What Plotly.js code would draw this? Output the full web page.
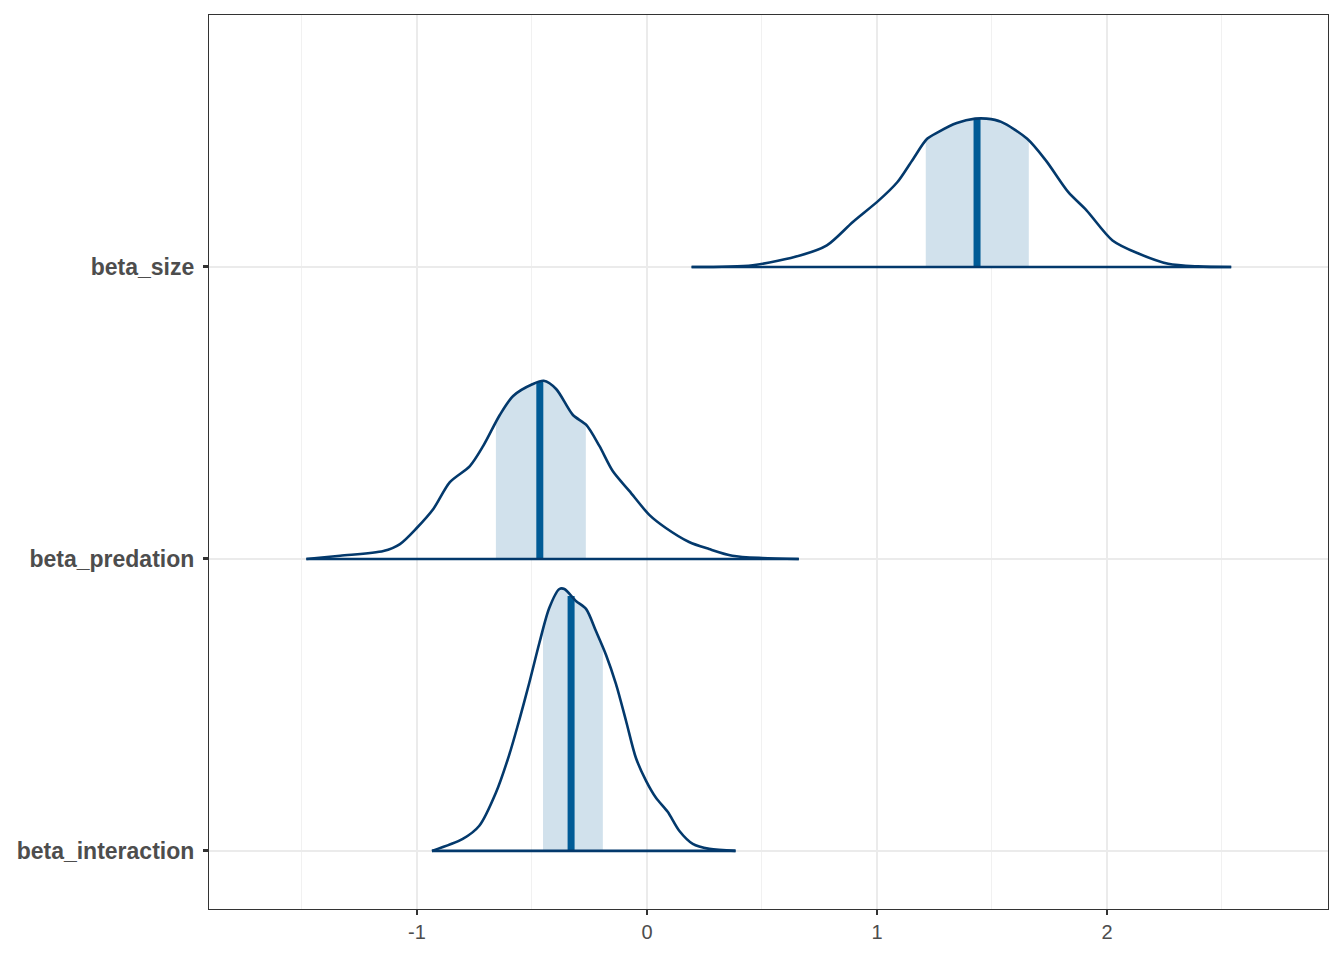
<!DOCTYPE html>
<html>
<head>
<meta charset="utf-8">
<script src="https://cdn.plot.ly/plotly-3.0.1.min.js"></script>
<style>html,body{margin:0;padding:0;background:#fff;}#chart{width:1344px;height:960px;}</style>
</head>
<body>
<div id="chart"></div>
<script>
// Parameter names (bottom to top) and their row positions
var params = ["beta_interaction", "beta_predation", "beta_size"];
var rows = [1, 2, 3];

// Density curves (x value, density height)
var sizeX = [0.194, 0.46, 0.669, 0.782, 0.895, 1.008, 1.089, 1.153, 1.218, 1.266, 1.347, 1.427, 1.476, 1.540, 1.653, 1.734, 1.831, 1.911, 2.024, 2.137, 2.266, 2.395, 2.540];
var sizeY = [0, 0.006, 0.040, 0.074, 0.154, 0.228, 0.291, 0.365, 0.439, 0.462, 0.493, 0.508, 0.508, 0.497, 0.439, 0.365, 0.257, 0.194, 0.091, 0.046, 0.011, 0.002, 0];

var predX = [-1.481, -1.334, -1.146, -1.074, -1.001, -0.929, -0.857, -0.770, -0.712, -0.640, -0.582, -0.496, -0.449, -0.395, -0.322, -0.264, -0.207, -0.149, -0.077, 0.010, 0.082, 0.183, 0.270, 0.371, 0.501, 0.660];
var predY = [0, 0.011, 0.027, 0.051, 0.106, 0.171, 0.263, 0.318, 0.387, 0.493, 0.558, 0.599, 0.610, 0.582, 0.493, 0.459, 0.387, 0.301, 0.233, 0.151, 0.106, 0.058, 0.034, 0.011, 0.003, 0];

var interX = [-0.935, -0.801, -0.729, -0.657, -0.599, -0.555, -0.512, -0.468, -0.425, -0.381, -0.359, -0.309, -0.265, -0.222, -0.178, -0.135, -0.091, -0.048, -0.004, 0.039, 0.090, 0.141, 0.199, 0.271, 0.385];
var interY = [0, 0.041, 0.086, 0.199, 0.329, 0.449, 0.575, 0.712, 0.832, 0.897, 0.897, 0.856, 0.829, 0.753, 0.671, 0.572, 0.445, 0.318, 0.240, 0.182, 0.134, 0.068, 0.024, 0.007, 0];

// Inner interval (low, high) and median per parameter
var intervalLow = [-0.452, -0.657, 1.212];
var intervalHigh = [-0.192, -0.266, 1.660];
var medians = [-0.330, -0.466, 1.435];

var curvesX = [interX, predX, sizeX];
var curvesY = [interY, predY, sizeY];

var xTickVals = [-1, 0, 1, 2];
var xTickText = ["-1", "0", "1", "2"];

var colLight = "#d1e1ec", colMid = "#005b96", colDark = "#03396c";

function heightAt(xs, ys, x) {
  for (var i = 0; i < xs.length - 1; i++) {
    if (x >= xs[i] && x <= xs[i + 1]) {
      var t = (x - xs[i]) / (xs[i + 1] - xs[i]);
      return ys[i] + t * (ys[i + 1] - ys[i]);
    }
  }
  return 0;
}

var traces = [];
for (var k = 0; k < params.length; k++) {
  var xs = curvesX[k], ys = curvesY[k], base = rows[k];
  var lo = intervalLow[k], hi = intervalHigh[k];
  // shaded interval
  var sx = [lo], sy = [base + heightAt(xs, ys, lo)];
  for (var i = 0; i < xs.length; i++) {
    if (xs[i] > lo && xs[i] < hi) { sx.push(xs[i]); sy.push(base + ys[i]); }
  }
  sx.push(hi); sy.push(base + heightAt(xs, ys, hi));
  sx.push(hi); sy.push(base);
  sx.push(lo); sy.push(base);
  traces.push({x: sx, y: sy, type: "scatter", mode: "lines", fill: "toself",
    fillcolor: colLight, line: {width: 0, color: colLight}, hoverinfo: "skip", showlegend: false});
  // median
  var m = medians[k];
  traces.push({x: [m, m], y: [base, base + heightAt(xs, ys, m)], type: "scatter", mode: "lines",
    line: {color: colMid, width: 7}, hoverinfo: "skip", showlegend: false});
  // outline curve
  traces.push({x: xs, y: ys.map(function (v) { return base + v; }), type: "scatter", mode: "lines",
    line: {color: colDark, width: 2.6, shape: "spline", smoothing: 0.8}, hoverinfo: "skip", showlegend: false});
  // baseline
  traces.push({x: [xs[0], xs[xs.length - 1]], y: [base, base], type: "scatter", mode: "lines",
    line: {color: colDark, width: 2.6}, hoverinfo: "skip", showlegend: false});
}

var layout = {
  width: 1344, height: 960,
  margin: {l: 209, r: 16, t: 15, b: 51, pad: 0},
  paper_bgcolor: "#ffffff", plot_bgcolor: "#ffffff",
  showlegend: false,
  font: {family: "Liberation Sans, Arial, sans-serif"},
  xaxis: {
    range: [-1.9043, 2.9609], tickvals: xTickVals, ticktext: xTickText,
    showgrid: true, gridcolor: "#ebebeb", gridwidth: 1.4, zeroline: false,
    minor: {tickvals: [-1.5, -0.5, 0.5, 1.5, 2.5], showgrid: true, gridcolor: "#ebebeb", gridwidth: 0.7, ticks: ""},
    ticks: "outside", ticklen: 5, tickwidth: 1.1, tickcolor: "#333333",
    tickfont: {size: 20, color: "#4d4d4d"},
    showline: true, mirror: true, linecolor: "#333333", linewidth: 1.1
  },
  yaxis: {
    range: [0.801, 3.863], tickvals: rows, ticktext: params,
    showgrid: true, gridcolor: "#ebebeb", gridwidth: 1.4, zeroline: false,
    ticks: "outside", ticklen: 5, tickwidth: 3, tickcolor: "#333333",
    tickfont: {size: 23, color: "#4d4d4d", weight: "bold"},
    ticklabelstandoff: 4,
    showline: true, mirror: true, linecolor: "#333333", linewidth: 1.1
  }
};

Plotly.newPlot("chart", traces, layout, {displayModeBar: false, staticPlot: true});
</script>
</body>
</html>
